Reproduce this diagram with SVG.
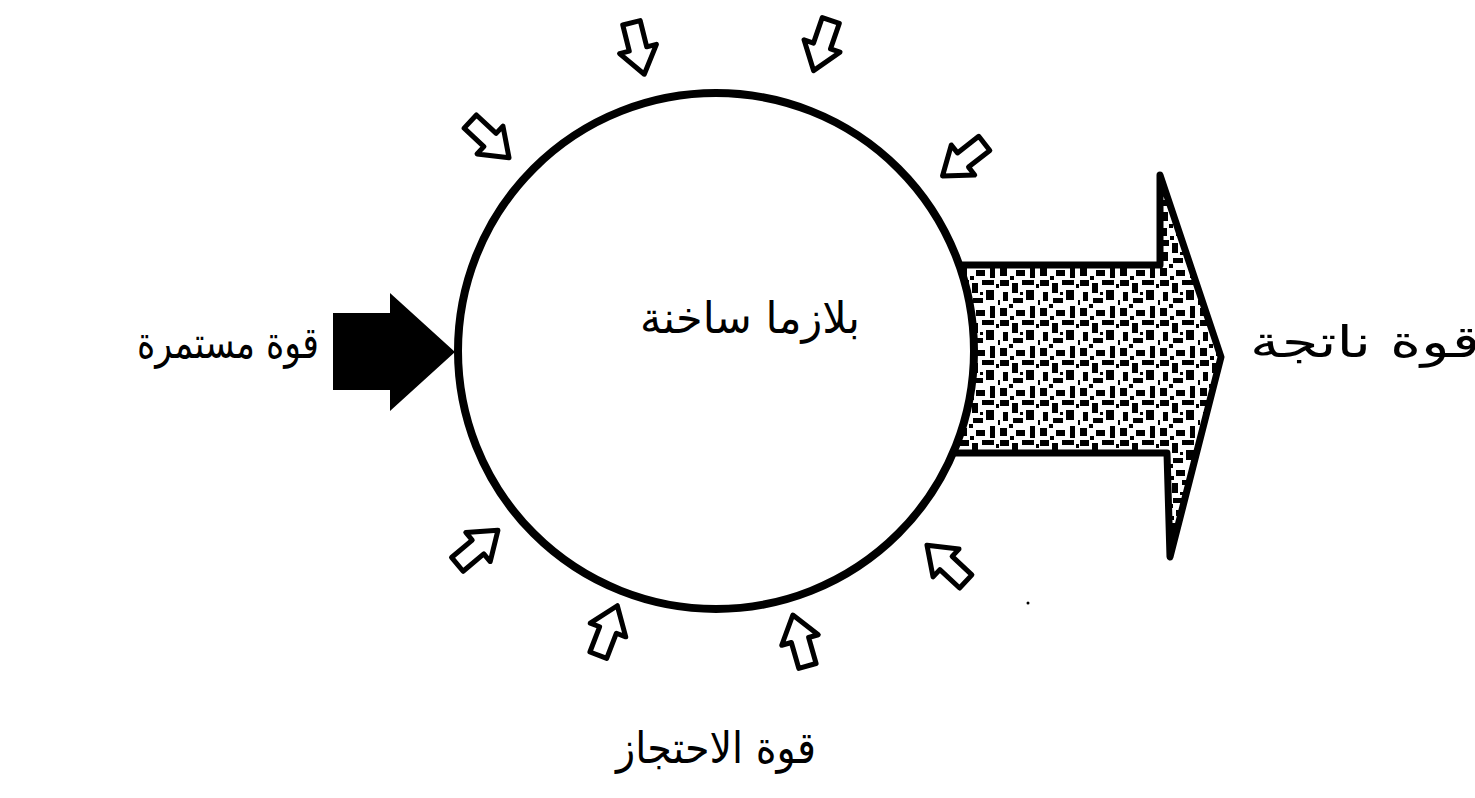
<svg xmlns="http://www.w3.org/2000/svg" width="1475" height="798" viewBox="0 0 1475 798">
<style>
.lbl{font-family:"DejaVu Sans","Noto Sans",sans-serif;font-size:44px;fill:#000;text-anchor:middle}
.small{fill:#fff;stroke:#000;stroke-width:5;stroke-linejoin:round}
</style>
<defs>
<pattern id="speck" width="40" height="40" patternUnits="userSpaceOnUse">
<rect width="40" height="40" fill="#fff"/>
<rect x="0" y="0" width="9" height="6" fill="#000"/>
<rect x="12" y="3" width="6" height="10" fill="#000"/>
<rect x="22" y="0" width="12" height="5" fill="#000"/>
<rect x="3" y="12" width="5" height="9" fill="#000"/>
<rect x="26" y="10" width="8" height="10" fill="#000"/>
<rect x="13" y="18" width="10" height="5" fill="#000"/>
<rect x="0" y="28" width="7" height="8" fill="#000"/>
<rect x="30" y="26" width="5" height="12" fill="#000"/>
<rect x="16" y="30" width="9" height="6" fill="#000"/>
<rect x="9" y="24" width="4" height="4" fill="#000"/>
<rect x="36" y="4" width="3" height="4" fill="#000"/>
<rect x="20" y="12" width="3" height="3" fill="#000"/>
<rect x="38" y="20" width="2" height="5" fill="#000"/>
<rect x="10" y="36" width="4" height="4" fill="#000"/>
</pattern>
<path id="sa" d="M-27,-9 L0,-9 L0,-19 L26,0 L0,19 L0,9 L-27,9 Z"/>
</defs>
<g id="connectors">
<g id="output-arrow">
<path d="M930,265 L1160,265 L1160,175 L1221,357 L1170,557 L1167,453 L930,453 Z" fill="url(#speck)" stroke="#000" stroke-width="7" stroke-linejoin="round"/>
</g>
<g id="input-arrow">
<path d="M333,313 L390,313 L390,293 L455,352 L390,411 L390,390 L333,390 Z" fill="#000"/>
</g>
<g id="confinement-arrows">
<use href="#sa" class="small" transform="translate(638,49) rotate(76)"/>
<use href="#sa" class="small" transform="translate(822,46) rotate(109)"/>
<use href="#sa" class="small" transform="translate(490,140) rotate(43)"/>
<use href="#sa" class="small" transform="translate(963,160) rotate(142)"/>
<use href="#sa" class="small" transform="translate(478,547) rotate(-40)"/>
<use href="#sa" class="small" transform="translate(608,630) rotate(-69)"/>
<use href="#sa" class="small" transform="translate(800,640) rotate(-106)"/>
<use href="#sa" class="small" transform="translate(946,563) rotate(-137)"/>
</g>
</g>
<g id="plasma">
<circle cx="716" cy="351" r="258" fill="#fff" stroke="#000" stroke-width="8"/>
<text class="lbl" x="750" y="333" textLength="220" lengthAdjust="spacingAndGlyphs">بلازما ساخنة</text>
</g>
<g id="input-label"><text class="lbl" x="228" y="358" textLength="182" lengthAdjust="spacingAndGlyphs">قوة مستمرة</text></g>
<g id="output-label"><text class="lbl" x="1365" y="357" textLength="230" lengthAdjust="spacingAndGlyphs">قوة ناتجة</text></g>
<g id="confinement-label"><text class="lbl" x="716" y="763" textLength="200" lengthAdjust="spacingAndGlyphs">قوة الاحتجاز</text></g>
<circle cx="1028" cy="603" r="1.5" fill="#000"/>
</svg>
